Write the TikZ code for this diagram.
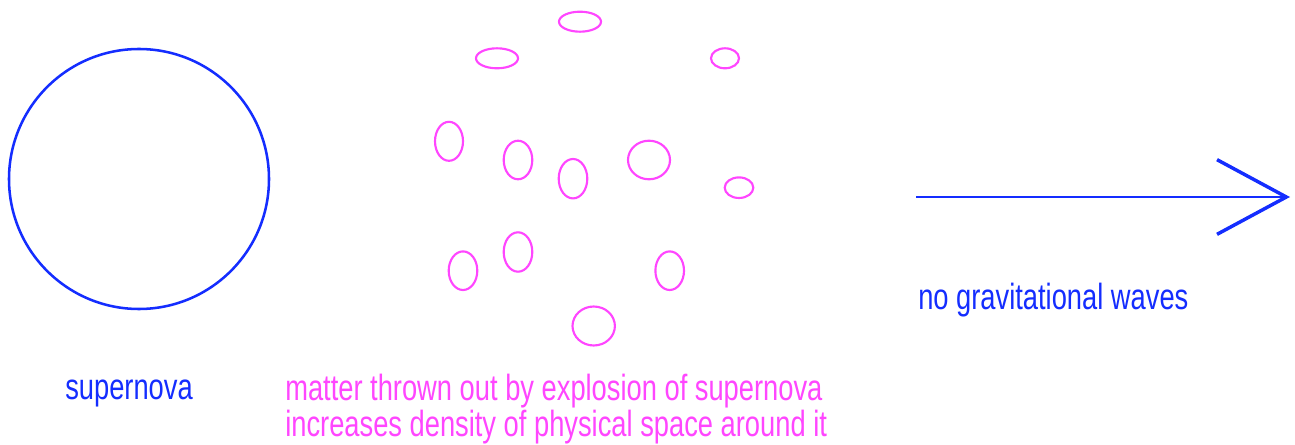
\documentclass[tikz,border=0pt]{standalone}
\usepackage{fontspec}
\setmainfont{Liberation Sans}
\usetikzlibrary{arrows.meta}

\definecolor{starblue}{RGB}{20,45,255}
\definecolor{matterpink}{RGB}{255,70,255}

\newcommand{\tallfont}[1]{\scalebox{0.975}[1.3]{#1}}

\tikzset{
  matter/.style={matterpink, line width=1.6pt},
  caption/.style={font=\fontsize{21pt}{20.2pt}\selectfont, inner sep=0pt, anchor=base west}
}

\begin{document}
\begin{tikzpicture}[x=0.75pt, y=-0.75pt]
  \useasboundingbox (0,0) rectangle (1295,445);

  % Supernova
  \draw[starblue, line width=1.9pt] (139,179) circle (130);
  \node[caption, starblue] (snlabel) at (65,399.5) {\tallfont{supernova}};

  % Matter thrown out
  \foreach \x/\y/\rx/\ry in {580/21.7/21/10, 497/58.3/21/10, 725/58.3/14/10,
      449/141.3/14/19.5, 518/160/14.3/19.3, 573/178.7/14.3/19.7, 649/160/21/19.3,
      739/187.7/14.3/10.3, 518/252/14.3/19.7, 463/270.7/14.3/19.3,
      669.7/270.7/14.3/19.3, 593.7/326/21.2/19.5} {
    \draw[matter] (\x,\y) ellipse [x radius=\rx, y radius=\ry];
  }
  \node[caption, matterpink] (matlabel) at (285,400)
    {\tallfont{\begin{tabular}[t]{@{}l@{}}matter thrown out by explosion of supernova\\
      increases density of physical space around it\end{tabular}}};

  % No waves
  \coordinate (wavestart) at (916,197);
  \coordinate (waveend) at (1290,197);
  \draw[starblue, line width=2.2pt, -{Straight Barb[length=52pt, width=56pt, line width=2.6pt]}]
    (wavestart) -- (waveend);
  \node[caption, starblue] (wavelabel) at (918,309) {\tallfont{no gravitational waves}};
\end{tikzpicture}
\end{document}
